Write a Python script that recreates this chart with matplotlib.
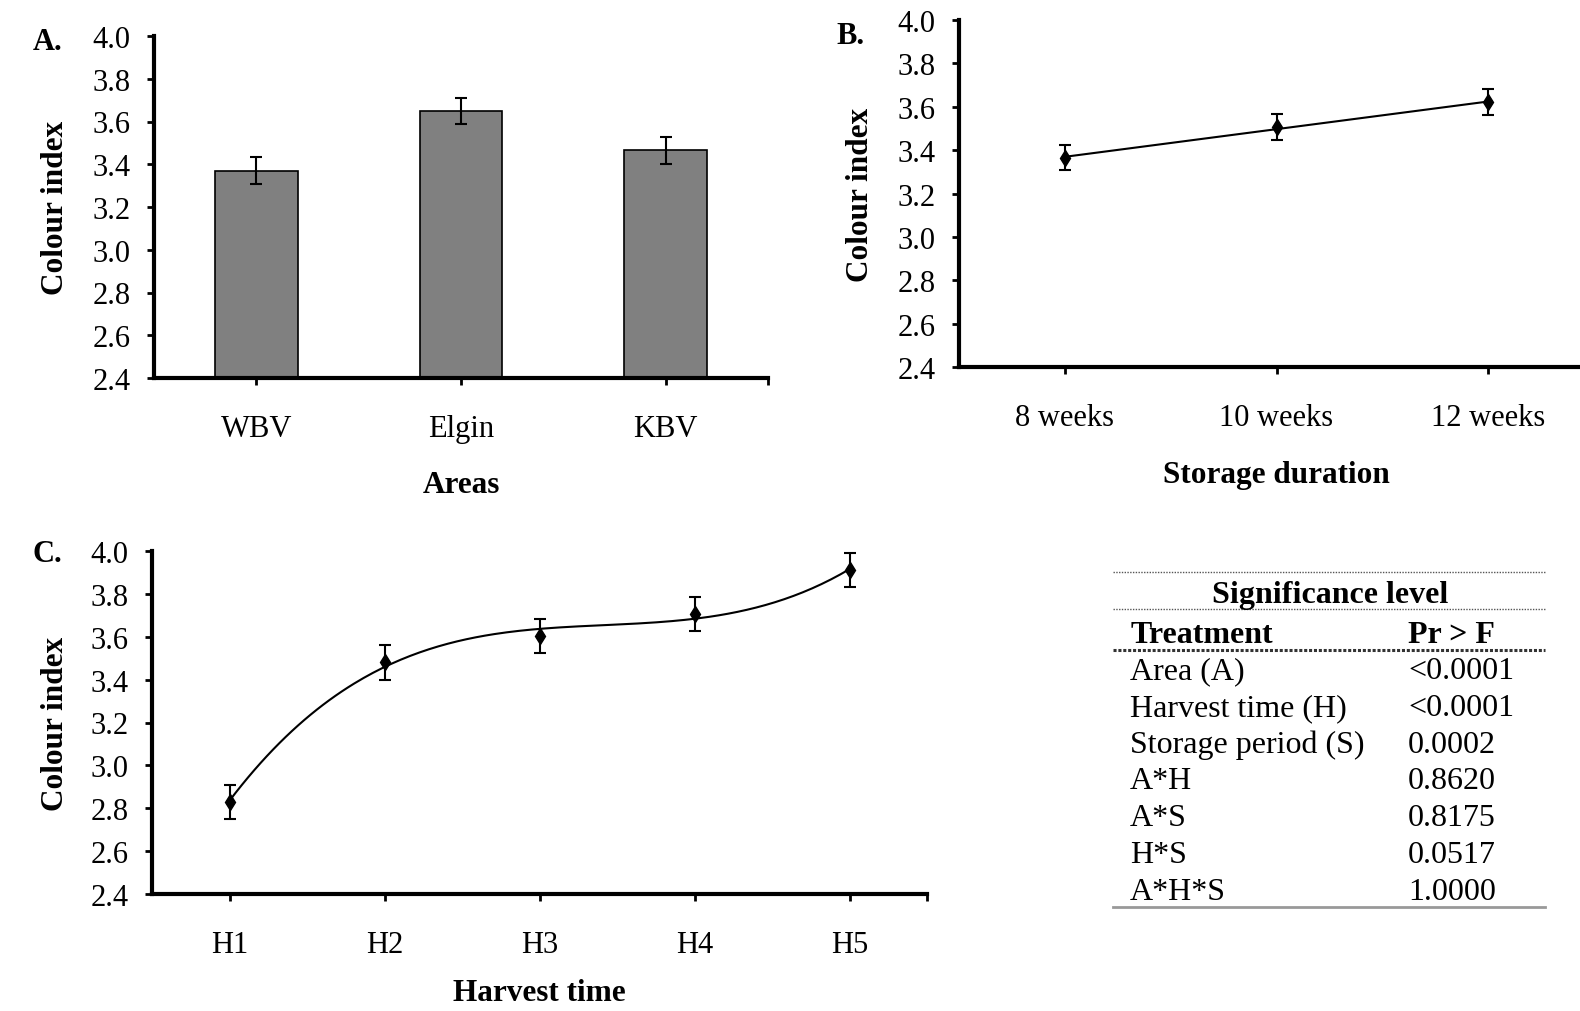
import matplotlib
matplotlib.use('Agg')
import matplotlib.pyplot as plt
from matplotlib.lines import Line2D
import numpy as np

plt.rcParams['font.family'] = ['Liberation Serif', 'DejaVu Serif']
plt.rcParams['font.size'] = 22

# data
areas = ['WBV', 'Elgin', 'KBV']
area_ci = [3.37, 3.65, 3.465]
area_err = [0.062, 0.062, 0.064]

storage = ['8 weeks', '10 weeks', '12 weeks']
storage_ci = [3.365, 3.505, 3.62]
storage_err = [0.058, 0.06, 0.06]

harvest = ['H1', 'H2', 'H3', 'H4', 'H5']
harvest_ci = [2.83, 3.48, 3.605, 3.705, 3.91]
harvest_err = [0.08, 0.08, 0.08, 0.08, 0.08]

treatments = ['Area (A)', 'Harvest time (H)', 'Storage period (S)',
              'A*H', 'A*S', 'H*S', 'A*H*S']
p_values = ['<0.0001', '<0.0001', '0.0002', '0.8620', '0.8175', '0.0517', '1.0000']

W, H = 1580, 1012
fig = plt.figure(figsize=(W / 100, H / 100), dpi=100)


def px_axes(left, right, top, bottom):
    return fig.add_axes([left / W, 1 - bottom / H, (right - left) / W, (bottom - top) / H])


def style(ax, n, xlabel, ylab_x, xlab_y=-0.31):
    for s in ['top', 'right']:
        ax.spines[s].set_visible(False)
    for s in ['left', 'bottom']:
        ax.spines[s].set_linewidth(3)
    ax.set_ylim(2.4, 4.0)
    ax.set_yticks(np.arange(2.4, 4.01, 0.2))
    ax.set_yticklabels(['%.1f' % v for v in np.arange(2.4, 4.01, 0.2)])
    ax.set_xlim(-0.5, n - 0.5)
    ax.tick_params(axis='both', direction='out', length=5, width=2, labelsize=22)
    ax.tick_params(axis='y', pad=12)
    ax.tick_params(axis='x', pad=21)
    ax.set_ylabel('Colour index', fontweight='bold', fontsize=22.5, va='center')
    ax.yaxis.set_label_coords(ylab_x, 0.5)
    ax.set_xlabel(xlabel, fontweight='bold', fontsize=22.5, va='center')
    ax.xaxis.set_label_coords(0.5, xlab_y)


# A. bar chart by area
axA = px_axes(154, 768, 37, 379)
x = np.arange(len(areas))
axA.bar(x, area_ci, width=0.405, color='#808080', edgecolor='black', linewidth=1.2,
        zorder=2)
axA.errorbar(x, area_ci, yerr=area_err, fmt='none', ecolor='black', elinewidth=1.5,
             capsize=4.5, capthick=1.5, zorder=3)
style(axA, len(areas), 'Areas', -0.16)
axA.set_xticks(list(x) + [len(areas) - 0.5])
axA.set_xticklabels(areas + [''])

# B. storage duration
axB = px_axes(959, 1594, 21, 368)
x = np.arange(len(storage))
fitB = np.polyfit(x, storage_ci, 1)
axB.plot(x, np.polyval(fitB, x), color='black', lw=1.5)
axB.errorbar(x, storage_ci, yerr=storage_err, fmt='d', color='black', ms=8.5,
             elinewidth=1.5, capsize=4.5, capthick=1.5)
style(axB, len(storage), 'Storage duration', -0.155)
axB.set_xticks(x)
axB.set_xticklabels(storage)

# C. harvest time
axC = px_axes(152, 927, 552, 895)
x = np.arange(len(harvest))
fitC = np.polyfit(x, harvest_ci, 3)
xs = np.linspace(0, len(harvest) - 1, 200)
axC.plot(xs, np.polyval(fitC, xs), color='black', lw=1.5)
axC.errorbar(x, harvest_ci, yerr=harvest_err, fmt='d', color='black', ms=8.5,
             elinewidth=1.5, capsize=4.5, capthick=1.5)
style(axC, len(harvest), 'Harvest time', -0.124, xlab_y=-0.288)
axC.set_xticks(list(x) + [len(harvest) - 0.5])
axC.set_xticklabels(harvest + [''])

# panel letters
fig.text(33 / W, 1 - 43 / H, 'A.', fontweight='bold', fontsize=22, va='center')
fig.text(836 / W, 1 - 36 / H, 'B.', fontweight='bold', fontsize=22, va='center')
fig.text(33 / W, 1 - 555 / H, 'C.', fontweight='bold', fontsize=22, va='center')

# significance table
x0, x1 = 1113 / W, 1545 / W


def hline(ypx, **kw):
    fig.add_artist(Line2D([x0, x1], [1 - ypx / H, 1 - ypx / H], transform=fig.transFigure, **kw))


hline(573, color='#555555', lw=1, ls=(0, (1, 1)))
hline(610, color='#555555', lw=1, ls=(0, (1, 1)))
hline(651, color='#333333', lw=2.2, ls=(0, (1, 0.6)))
hline(908, color='#999999', lw=2)

fig.text(1330 / W, 1 - 603 / H, 'Significance level', fontweight='bold', fontsize=23,
         ha='center', va='baseline')
fig.text(1131 / W, 1 - 643 / H, 'Treatment', fontweight='bold', fontsize=23, va='baseline')
fig.text(1408 / W, 1 - 643 / H, 'Pr > F', fontweight='bold', fontsize=23, va='baseline')
for i, (t, p) in enumerate(zip(treatments, p_values)):
    yb = 679 + i * 36.8
    fig.text(1130 / W, 1 - yb / H, t, fontsize=23, va='baseline')
    fig.text(1408 / W, 1 - yb / H, p, fontsize=23, va='baseline')

fig.savefig('out.png', dpi=100)
